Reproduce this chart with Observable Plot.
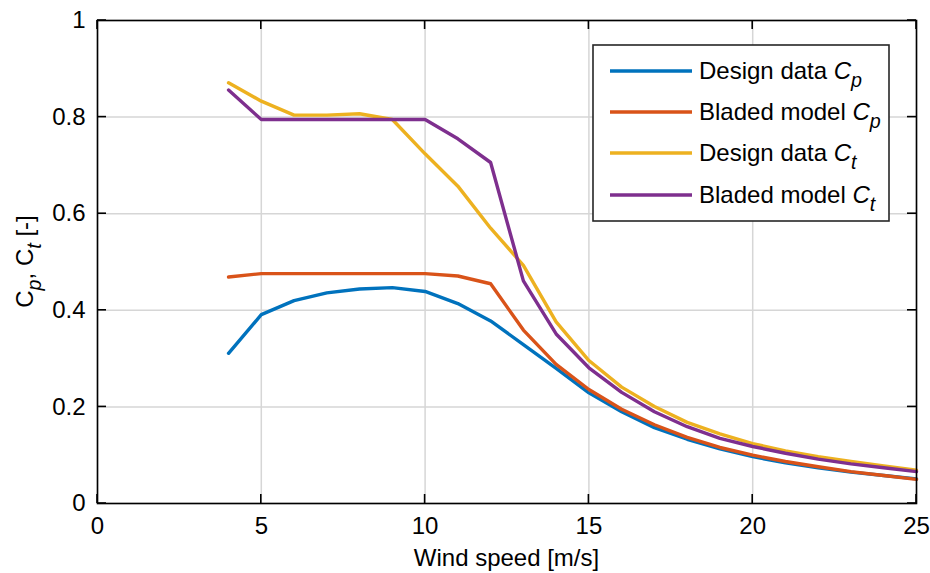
<!DOCTYPE html>
<html>
<head>
<meta charset="utf-8">
<script src="https://cdn.jsdelivr.net/npm/d3@7"></script>
<script src="https://cdn.jsdelivr.net/npm/@observablehq/plot@0.6"></script>
<style>
  html, body { margin: 0; padding: 0; background: #fff; }
  #chart { width: 930px; height: 573px; }
</style>
</head>
<body>
<div id="chart"></div>
<script>
// ---- data ----
const windSpeed = [4,5,6,7,8,9,10,11,12,13,14,15,16,17,18,19,20,21,22,23,24,25];
const designCp  = [0.311,0.391,0.420,0.436,0.444,0.447,0.439,0.414,0.378,0.329,0.280,0.229,0.190,0.157,0.133,0.113,0.097,0.084,0.074,0.065,0.058,0.051];
const bladedCp  = [0.469,0.476,0.476,0.476,0.476,0.476,0.476,0.471,0.455,0.359,0.288,0.236,0.195,0.163,0.137,0.116,0.100,0.087,0.076,0.066,0.058,0.050];
const designCt  = [0.871,0.833,0.804,0.804,0.807,0.795,0.724,0.657,0.570,0.493,0.376,0.296,0.241,0.201,0.168,0.144,0.124,0.109,0.097,0.087,0.078,0.069];
const bladedCt  = [0.856,0.795,0.795,0.795,0.795,0.795,0.795,0.755,0.706,0.461,0.351,0.281,0.230,0.190,0.159,0.135,0.118,0.104,0.092,0.082,0.074,0.066];
const seriesNames = ["Design data Cp","Bladed model Cp","Design data Ct","Bladed model Ct"];
const seriesColors = ["#0072BD","#D95319","#EDB120","#7E2F8E"];
const xTicks = [0,5,10,15,20,25];
const yTicks = [0,0.2,0.4,0.6,0.8,1];
const xLabel = "Wind speed [m/s]";

const allSeries = [designCp, bladedCp, designCt, bladedCt];
const rows = [];
allSeries.forEach((vals, i) => vals.forEach((v, j) => rows.push({series: seriesNames[i], x: windSpeed[j], y: v})));

const FONT = "'Liberation Sans', Arial, Helvetica, sans-serif";
const FS = 24;

const plot = Plot.plot({
  width: 930,
  height: 573,
  marginLeft: 97,
  marginRight: 14,
  marginTop: 20,
  marginBottom: 70,
  style: {fontFamily: FONT, fontSize: FS + "px", color: "#000", background: "#fff"},
  x: {domain: [0, 25], ticks: xTicks},
  y: {domain: [0, 1], ticks: yTicks},
  color: {domain: seriesNames, range: seriesColors},
  marks: [
    Plot.gridX(xTicks, {stroke: "#d6d6d6", strokeOpacity: 1, strokeWidth: 1.5}),
    Plot.gridY(yTicks, {stroke: "#d6d6d6", strokeOpacity: 1, strokeWidth: 1.5}),
    Plot.line(rows, {x: "x", y: "y", z: "series", stroke: "series", strokeWidth: 3.4, strokeLinejoin: "round"}),
    Plot.axisX(xTicks, {tickSize: 0, tickPadding: 13, label: null, tickFormat: d => String(d), fontSize: FS}),
    Plot.axisY(yTicks, {tickSize: 0, tickPadding: 12, label: null, tickFormat: d => String(d), fontSize: FS}),
    Plot.frame({stroke: "#000", strokeWidth: 1.6})
  ]
});
document.getElementById("chart").appendChild(plot);

// ---- decorations using Plot's own scales ----
const svg = d3.select(plot);
const sx = plot.scale("x"), sy = plot.scale("y");
const X = v => sx.apply(v), Y = v => sy.apply(v);
const x0 = X(0), x1 = X(25), y0 = Y(0), y1 = Y(1);
const TL = 9;
const g = svg.append("g").attr("stroke", "#000").attr("stroke-width", 1.6);
xTicks.forEach(t => {
  g.append("line").attr("x1", X(t)).attr("x2", X(t)).attr("y1", y0).attr("y2", y0 - TL);
  g.append("line").attr("x1", X(t)).attr("x2", X(t)).attr("y1", y1).attr("y2", y1 + TL);
});
yTicks.forEach(t => {
  g.append("line").attr("y1", Y(t)).attr("y2", Y(t)).attr("x1", x0).attr("x2", x0 + TL);
  g.append("line").attr("y1", Y(t)).attr("y2", Y(t)).attr("x1", x1).attr("x2", x1 - TL);
});

function rich(sel, parts, fs) {
  parts.forEach(p => {
    const t = sel.append("tspan").text(p.t);
    if (p.i) t.attr("font-style", "italic");
    if (p.sub) t.attr("font-size", (fs * 0.82) + "px").attr("dy", "0.42em");
    if (p.up) t.attr("dy", "-0.34em");
  });
}

// x label
svg.append("text")
  .attr("x", (x0 + x1) / 2).attr("y", 566)
  .attr("text-anchor", "middle").attr("font-family", FONT).attr("font-size", FS + "px").attr("fill", "#000")
  .text(xLabel);

// y label
const yl = svg.append("text")
  .attr("transform", `translate(33,${(y0 + y1) / 2}) rotate(-90)`)
  .attr("text-anchor", "middle").attr("font-family", FONT).attr("font-size", FS + "px").attr("fill", "#000");
rich(yl, [{t: "C"}, {t: "p", i: true, sub: true}, {t: ", C", up: true}, {t: "t", i: true, sub: true}, {t: " [-]", up: true}], FS);

// legend
const LFS = 24;
const lg = svg.append("g");
lg.append("rect").attr("x", 593).attr("y", 45).attr("width", 296).attr("height", 176)
  .attr("fill", "#fff").attr("stroke", "#262626").attr("stroke-width", 1.6);
const legendParts = [
  [{t: "Design data "}, {t: "C", i: true}, {t: "p", i: true, sub: true}],
  [{t: "Bladed model "}, {t: "C", i: true}, {t: "p", i: true, sub: true}],
  [{t: "Design data "}, {t: "C", i: true}, {t: "t", i: true, sub: true}],
  [{t: "Bladed model "}, {t: "C", i: true}, {t: "t", i: true, sub: true}]
];
const legendY = [71, 112, 153, 195];
seriesNames.forEach((s, i) => {
  lg.append("line").attr("x1", 610).attr("x2", 692).attr("y1", legendY[i]).attr("y2", legendY[i])
    .attr("stroke", seriesColors[i]).attr("stroke-width", 3.4);
  const t = lg.append("text").attr("x", 699).attr("y", legendY[i] + 8)
    .attr("text-anchor", "start")
    .attr("font-family", FONT).attr("font-size", LFS + "px").attr("fill", "#000");
  rich(t, legendParts[i], LFS);
});
</script>
</body>
</html>
